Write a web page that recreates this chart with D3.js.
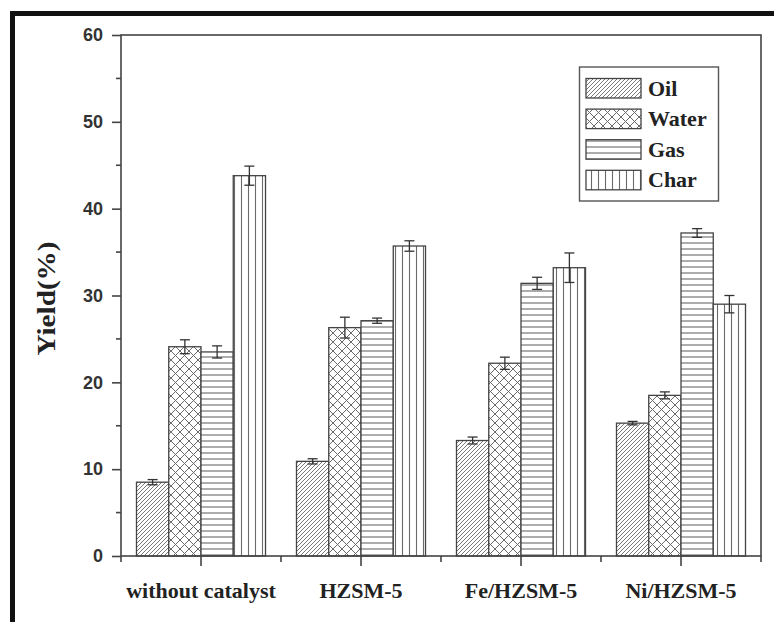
<!DOCTYPE html>
<html><head><meta charset="utf-8">
<script src="https://cdn.jsdelivr.net/npm/d3@7"></script>
<style>body{margin:0;background:#fff}svg{display:block}</style>
</head><body>
<svg id="c" width="774" height="622"></svg>
<script>
const categories = ["without catalyst", "HZSM-5", "Fe/HZSM-5", "Ni/HZSM-5"];
const seriesNames = ["Oil", "Water", "Gas", "Char"];
const oil   = [8.5, 10.9, 13.3, 15.3];
const water = [24.1, 26.3, 22.2, 18.5];
const gas   = [23.5, 27.1, 31.4, 37.2];
const char  = [43.8, 35.7, 33.2, 29.0];
const oilErr   = [0.3, 0.3, 0.4, 0.2];
const waterErr = [0.8, 1.2, 0.7, 0.4];
const gasErr   = [0.7, 0.3, 0.7, 0.5];
const charErr  = [1.1, 0.6, 1.7, 1.0];
const yTicks = [0, 10, 20, 30, 40, 50, 60];

const values = [oil, water, gas, char];
const errs = [oilErr, waterErr, gasErr, charErr];

const svg = d3.select("#c");
const L = 121, R = 761, T = 35, B = 556;

// outer frame (partial, extends beyond view)
svg.append("rect").attr("x", 12.5).attr("y", 13.5).attr("width", 800).attr("height", 700)
  .attr("fill", "none").attr("stroke", "#111").attr("stroke-width", 5);

const defs = svg.append("defs");
const pc = "#6a6a6a";
// Oil: diagonal /
const p0 = defs.append("pattern").attr("id", "p0").attr("patternUnits", "userSpaceOnUse").attr("width", 4).attr("height", 4);
p0.append("rect").attr("width", 4).attr("height", 4).attr("fill", "#fff");
p0.append("path").attr("d", "M-1,1 L1,-1 M0,4 L4,0 M3,5 L5,3").attr("stroke", pc).attr("stroke-width", 0.9);
// Water: crosshatch
const p1 = defs.append("pattern").attr("id", "p1").attr("patternUnits", "userSpaceOnUse").attr("width", 9).attr("height", 9);
p1.append("rect").attr("width", 9).attr("height", 9).attr("fill", "#fff");
p1.append("path").attr("d", "M0,0 L9,9 M0,9 L9,0").attr("stroke", pc).attr("stroke-width", 1);
// Gas: horizontal
const p2 = defs.append("pattern").attr("id", "p2").attr("patternUnits", "userSpaceOnUse").attr("width", 6).attr("height", 6);
p2.append("rect").attr("width", 6).attr("height", 6).attr("fill", "#fff");
p2.append("path").attr("d", "M0,3 L6,3").attr("stroke", pc).attr("stroke-width", 1.1);
// Char: vertical
const p3 = defs.append("pattern").attr("id", "p3").attr("patternUnits", "userSpaceOnUse").attr("width", 7).attr("height", 6);
p3.append("rect").attr("width", 7).attr("height", 6).attr("fill", "#fff");
p3.append("path").attr("d", "M3.5,0 L3.5,6").attr("stroke", pc).attr("stroke-width", 1.1);

const y = d3.scaleLinear().domain([0, 60]).range([B, T]);
const x0 = d3.scaleBand().domain(categories).range([L, R]).paddingInner(0).paddingOuter(0);
const x1 = d3.scaleBand().domain(seriesNames).range([0, x0.bandwidth()]).paddingInner(0).paddingOuter(0.48);

// bars
const g = svg.append("g");
categories.forEach((c, ci) => {
  seriesNames.forEach((s, si) => {
    const v = values[si][ci];
    const bx = x0(c) + x1(s);
    g.append("rect").attr("x", bx).attr("y", y(v)).attr("width", x1.bandwidth()).attr("height", y(0) - y(v))
      .attr("fill", `url(#p${si})`).attr("stroke", "#444").attr("stroke-width", 1.3);
  });
});
// error bars
categories.forEach((c, ci) => {
  seriesNames.forEach((s, si) => {
    const v = values[si][ci], e = errs[si][ci];
    const cx = x0(c) + x1(s) + x1.bandwidth() / 2;
    const eg = g.append("g").attr("stroke", "#333").attr("stroke-width", 1.3);
    eg.append("line").attr("x1", cx).attr("x2", cx).attr("y1", y(v - e)).attr("y2", y(v + e));
    eg.append("line").attr("x1", cx - 5).attr("x2", cx + 5).attr("y1", y(v - e)).attr("y2", y(v - e));
    eg.append("line").attr("x1", cx - 5).attr("x2", cx + 5).attr("y1", y(v + e)).attr("y2", y(v + e));
  });
});

// plot box
svg.append("rect").attr("x", L).attr("y", T).attr("width", R - L).attr("height", B - T)
  .attr("fill", "none").attr("stroke", "#444").attr("stroke-width", 1.6);

// y axis
const yAxis = d3.axisLeft(y).tickValues(yTicks).tickSize(9).tickPadding(9);
const ya = svg.append("g").attr("transform", `translate(${L},0)`).call(yAxis);
ya.select(".domain").remove();
ya.selectAll("line").attr("stroke", "#444").attr("stroke-width", 1.6);
ya.selectAll("text").attr("font-family", "Liberation Sans, Arial, sans-serif").attr("font-weight", "bold")
  .attr("font-size", 18).attr("fill", "#333");
const yMinor = d3.range(5, 60, 10);
svg.append("g").selectAll("line").data(yMinor).join("line")
  .attr("x1", L - 5).attr("x2", L).attr("y1", d => y(d)).attr("y2", d => y(d))
  .attr("stroke", "#444").attr("stroke-width", 1.6);

// x axis
const xa = svg.append("g").attr("transform", `translate(0,${B})`)
  .call(d3.axisBottom(x0).tickSize(10).tickPadding(16));
xa.select(".domain").remove();
xa.selectAll("line").attr("stroke", "#444").attr("stroke-width", 1.6);
xa.selectAll("text").attr("font-family", "Liberation Serif, Times New Roman, serif").attr("font-weight", "bold")
  .attr("font-size", 22).attr("fill", "#222").attr("dy", "0.72em");
const xMinor = d3.range(0, categories.length + 1).map(i => L + i * x0.step());
svg.append("g").selectAll("line").data(xMinor).join("line")
  .attr("x1", d => d).attr("x2", d => d).attr("y1", B).attr("y2", B + 6)
  .attr("stroke", "#444").attr("stroke-width", 1.6);

// y label
svg.append("text").attr("transform", `translate(55,${(T + B) / 2 + 3}) rotate(-90)`)
  .attr("text-anchor", "middle").attr("font-family", "Liberation Serif, Times New Roman, serif")
  .attr("font-weight", "bold").attr("font-size", 25).attr("fill", "#222")
  .attr("textLength", 114).attr("lengthAdjust", "spacingAndGlyphs").text("Yield(%)");

// legend
const lg = svg.append("g");
lg.append("rect").attr("x", 579.5).attr("y", 67).attr("width", 139).attr("height", 134)
  .attr("fill", "#fff").attr("stroke", "#555").attr("stroke-width", 1.4);
seriesNames.forEach((s, i) => {
  const yy = 78.5 + i * 30.6;
  lg.append("rect").attr("x", 586).attr("y", yy).attr("width", 55).attr("height", 19.5)
    .attr("fill", `url(#p${i})`).attr("stroke", "#444").attr("stroke-width", 1.3);
  lg.append("text").attr("x", 648).attr("y", yy + 17).attr("font-family", "Liberation Serif, Times New Roman, serif")
    .attr("font-weight", "bold").attr("font-size", 22).attr("fill", "#222").text(s);
});
</script>
</body></html>
